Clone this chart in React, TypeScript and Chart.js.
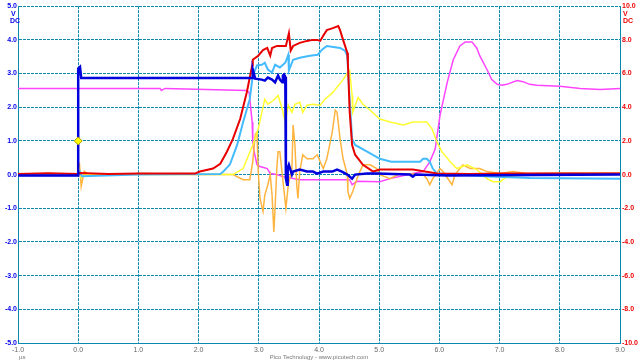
import React, { useEffect, useRef } from "react";
import { Chart, registerables } from "chart.js";

Chart.register(...registerables);

// time axis (µs)
const xTicksMin = -1;
const xTicksMax = 9;
const leftMin = -5;
const leftMax = 5;
const rightMin = -10;
const rightMax = 10;

// Blue channel (left axis, V)
const blueT = [-1, 0, 0, 0.03, 0.05, 0.06, 2.89, 2.9, 2.94, 3.05, 3.1, 3.15, 3.22, 3.27, 3.32, 3.35, 3.39, 3.4, 3.42, 3.44, 3.45, 3.47, 3.48, 3.5, 3.55, 3.57, 3.68, 3.8, 3.9, 3.97, 4.07, 4.22, 4.3, 4.38, 4.47, 4.55, 4.6, 4.8, 4.96, 5.51, 5.56, 5.6, 6.13, 9];
const blueV = [-0.03, -0.03, 3.15, 3.2, 2.87, 2.87, 2.87, 3.12, 2.85, 2.82, 2.79, 2.88, 2.82, 2.74, 2.94, 2.82, 2.74, 2.94, 2.97, 2.9, -0.12, -0.3, 0.18, 0.29, 0, 0.09, 0.15, 0.09, 0.09, 0.03, 0.09, 0.09, 0.15, 0.09, 0, -0.12, 0, 0.03, 0.03, 0, -0.06, 0, -0.03, 0];

// Red channel (right axis, V)
const redT = [-1, -0.5, 0, 0.03, 0.5, 1, 1.5, 1.94, 2.02, 2.24, 2.36, 2.47, 2.57, 2.69, 2.8, 2.89, 2.9, 2.99, 3.07, 3.14, 3.19, 3.22, 3.3, 3.45, 3.5, 3.53, 3.57, 3.68, 3.8, 3.9, 3.97, 4.02, 4.07, 4.13, 4.23, 4.32, 4.35, 4.4, 4.47, 4.48, 4.51, 4.55, 4.6, 4.73, 4.9, 5.01, 5.56, 5.96, 6.5, 7, 8, 9];
const redV = [0.04, 0.08, 0.04, 0.1, 0.04, 0.06, 0.06, 0.06, 0.18, 0.36, 0.64, 1.36, 2.12, 3.3, 4.88, 6.48, 6.82, 7.06, 7.4, 7.52, 7.06, 7.52, 7.64, 7.64, 8.4, 7.36, 7.64, 7.82, 7.94, 8.0, 8.0, 7.94, 8.24, 8.58, 8.7, 8.82, 8.58, 8.0, 7.24, 6.64, 3.7, 1.76, 1.18, 0.58, 0.18, 0.3, 0.3, 0.06, 0.04, 0.06, 0.06, 0.06];

// Cyan channel (left axis, V)
const cyanT = [-1, 0, 0.03, 0.06, 1, 2.36, 2.41, 2.52, 2.64, 2.74, 2.85, 2.9, 2.97, 3.05, 3.1, 3.15, 3.22, 3.27, 3.35, 3.44, 3.49, 3.5, 3.57, 3.68, 3.85, 3.98, 4.05, 4.13, 4.35, 4.43, 4.47, 4.51, 4.55, 4.6, 4.8, 5.01, 5.2, 5.68, 5.73, 5.79, 5.84, 5.89, 5.96, 6.3, 6.84, 7.5, 9];
const cyanV = [-0.02, -0.02, 0.08, -0.05, 0, 0.02, 0.09, 0.3, 0.88, 1.56, 2.24, 2.94, 3.24, 3.26, 3.32, 3.12, 3.03, 3.26, 3.18, 3.32, 3.56, 3.09, 3.41, 3.47, 3.53, 3.56, 3.71, 3.82, 3.76, 3.68, 3.53, 2.2, 1.06, 0.88, 0.68, 0.47, 0.38, 0.38, 0.47, 0.47, 0.38, 0.18, 0.03, 0, -0.06, -0.1, -0.12];

// Yellow channel (left axis, V)
const yellowT = [-1, 0, 0.02, 0.05, 0.1, 2.57, 2.74, 2.9, 2.99, 3.05, 3.1, 3.15, 3.24, 3.32, 3.39, 3.44, 3.49, 3.55, 3.6, 3.68, 3.73, 3.8, 3.9, 4.02, 4.1, 4.23, 4.4, 4.48, 4.51, 4.55, 4.56, 4.65, 4.73, 4.85, 5.01, 5.18, 5.4, 5.56, 5.79, 5.88, 5.96, 6.04, 6.18, 6.29, 6.46, 6.62, 6.79, 6.89, 7.01, 7.12, 7.5, 9];
const yellowV = [-0.02, 0, 0.15, -0.1, 0, 0, 0.18, 0.88, 1.35, 1.85, 2.24, 2.09, 2.2, 2.35, 1.94, 1.56, 2.06, 1.85, 2.09, 2.15, 1.85, 2.06, 2.09, 2.06, 2.24, 2.44, 2.82, 3.03, 3.09, 2.35, 1.85, 2.29, 2.09, 1.91, 1.65, 1.56, 1.47, 1.56, 1.56, 1.35, 0.97, 0.68, 0.38, 0.18, 0.29, 0.15, -0.12, -0.21, -0.21, -0.06, 0, 0];

// Orange channel (left axis, V)
const orangeT = [-1, -0.5, 0, 0.02, 0.05, 0.1, 0.2, 1, 2, 2.57, 2.74, 2.85, 2.9, 2.94, 2.97, 2.99, 3.02, 3.07, 3.1, 3.15, 3.19, 3.22, 3.25, 3.27, 3.3, 3.32, 3.35, 3.39, 3.42, 3.45, 3.49, 3.55, 3.57, 3.6, 3.63, 3.65, 3.68, 3.73, 3.8, 3.9, 3.97, 4.02, 4.07, 4.13, 4.22, 4.27, 4.3, 4.35, 4.4, 4.47, 4.48, 4.51, 4.56, 4.63, 4.68, 4.73, 4.85, 4.96, 5.01, 5.18, 5.35, 5.73, 5.79, 5.84, 5.89, 6.01, 6.06, 6.21, 6.26, 6.39, 6.51, 6.67, 6.79, 7.01, 7.22, 7.46, 8, 9];
const orangeV = [0, 0.03, 0, 0.35, -0.35, 0.1, -0.03, 0.03, 0, 0, -0.15, -0.15, 0.38, 1.18, 1.26, 0.1, -0.71, -1.09, -0.6, -0.3, 0, -0.6, -1.7, -1.0, 0.2, 0.68, 0.68, 0, -0.5, -1.0, -0.3, 0.18, 1.47, 0.88, -0.3, -0.71, 0.09, 0.59, 0.47, 0.47, 0.59, 0.38, 0.18, 0.47, 1.26, 1.91, 1.85, 1.06, 0.47, 0, -0.5, -0.71, -0.5, -0.12, 0.09, 0.29, 0.29, 0.18, 0, -0.12, 0.03, 0, -0.12, -0.3, -0.12, 0.18, 0.09, -0.3, 0, 0.29, 0.18, 0.18, 0.09, 0.03, 0.09, 0.03, 0.05, 0.05];

// Magenta channel (right axis, V)
const magentaT = [-1, 1.36, 1.38, 1.41, 1.45, 2.8, 2.84, 2.89, 2.9, 2.97, 3.02, 3.14, 3.19, 3.3, 3.4, 3.68, 4.51, 4.55, 4.63, 5.01, 5.18, 5.56, 5.73, 5.84, 5.93, 6.01, 6.13, 6.23, 6.34, 6.43, 6.54, 6.62, 6.67, 6.79, 6.87, 6.96, 7.04, 7.12, 7.29, 7.39, 7.5, 7.62, 8, 8.34, 8.67, 9];
const magentaV = [5.12, 5.12, 5.0, 5.06, 5.12, 5.0, 4.88, 3.12, 1.76, 0.58, 0.48, 0.36, 0.06, 0, -0.12, -0.3, -0.3, -0.6, -0.4, -0.42, -0.24, 0.06, 0.18, 0.76, 1.52, 3.52, 5.48, 6.82, 7.64, 7.88, 7.88, 7.52, 7.06, 6.24, 5.64, 5.36, 5.3, 5.36, 5.58, 5.52, 5.36, 5.3, 5.24, 5.12, 5.06, 5.12];

// Trigger marker
const triggerT = [0];
const triggerV = [1.0];

const xTickLabels = ["-1.0", "0.0", "1.0", "2.0", "3.0", "4.0", "5.0", "6.0", "7.0", "8.0", "9.0"];
const xUnit = "µs";
const footer = "Pico Technology - www.picotech.com";

const GRID = "#0a88b0";

function pts(t: number[], v: number[]) {
  return t.map((x, i) => ({ x, y: v[i] }));
}

export default function App() {
  const ref = useRef<HTMLCanvasElement | null>(null);
  useEffect(() => {
    if (!ref.current) return;
    const textPlugin = {
      id: "extraText",
      afterDraw(chart: any) {
        const { ctx, chartArea } = chart;
        ctx.save();
        ctx.textBaseline = "middle";
        ctx.font = "bold 7px 'Liberation Sans'";
        ctx.fillStyle = "#0000ee";
        ctx.textAlign = "left";
        ctx.fillText("V", chartArea.left - 7, chartArea.top + 8);
        ctx.fillText("DC", chartArea.left - 8, chartArea.top + 15);
        ctx.fillStyle = "#ee0000";
        ctx.fillText("V", chartArea.right + 3, chartArea.top + 8);
        ctx.fillText("DC", chartArea.right + 3, chartArea.top + 15);
        ctx.font = "6px 'Liberation Sans'";
        ctx.fillStyle = "#777777";
        ctx.fillText(xUnit, chartArea.left + 1, chartArea.bottom + 14);
        ctx.textAlign = "center";
        ctx.fillText(footer, (chartArea.left + chartArea.right) / 2, chartArea.bottom + 14);
        ctx.restore();
      },
    };
    const chart = new Chart(ref.current, {
      type: "line",
      data: {
        datasets: [
          { label: "trigger", data: pts(triggerT, triggerV), yAxisID: "y", showLine: false, pointStyle: "rectRot", pointRadius: 4, backgroundColor: "#ffff00", borderColor: "#b0a000", borderWidth: 1 },
          { label: "A", data: pts(blueT, blueV), yAxisID: "y", borderColor: "#0000dd", borderWidth: 2.5, pointRadius: 0 },
          { label: "B", data: pts(redT, redV), yAxisID: "y2", borderColor: "#e80000", borderWidth: 2, pointRadius: 0 },
          { label: "C", data: pts(cyanT, cyanV), yAxisID: "y", borderColor: "#44bbff", borderWidth: 2, pointRadius: 0 },
          { label: "D", data: pts(yellowT, yellowV), yAxisID: "y", borderColor: "#ffff30", borderWidth: 1.5, pointRadius: 0 },
          { label: "E", data: pts(orangeT, orangeV), yAxisID: "y", borderColor: "#ffb440", borderWidth: 1.5, pointRadius: 0 },
          { label: "F", data: pts(magentaT, magentaV), yAxisID: "y2", borderColor: "#ff44ff", borderWidth: 1.5, pointRadius: 0 },
        ],
      },
      options: {
        animation: false,
        responsive: true,
        maintainAspectRatio: false,
        layout: { padding: { top: 3, left: 0, right: 0, bottom: 0 } },
        plugins: { legend: { display: false }, tooltip: { enabled: false } },
        elements: { line: { tension: 0 } },
        scales: {
          x: {
            type: "linear",
            min: xTicksMin,
            max: xTicksMax,
            afterFit: (s: any) => { s.height = 17; },
            ticks: {
              stepSize: 1,
              autoSkip: false,
              maxRotation: 0,
              padding: 3,
              color: "#666666",
              font: { family: "Liberation Sans", size: 7 },
              callback: (_v: any, i: number) => xTickLabels[i],
            },
            grid: { color: GRID, lineWidth: 1, drawTicks: false },
            border: { color: GRID, dash: [3, 1] },
          },
          y: {
            position: "left",
            min: leftMin,
            max: leftMax,
            afterFit: (s: any) => { s.width = 18; },
            ticks: {
              stepSize: 1,
              padding: 1,
              color: "#0000ee",
              font: { family: "Liberation Sans", size: 7, weight: "bold" },
              callback: (v: any) => Number(v).toFixed(1),
            },
            grid: { color: GRID, lineWidth: 1, drawTicks: false },
            border: { color: GRID, dash: [3, 1] },
          },
          y2: {
            position: "right",
            min: rightMin,
            max: rightMax,
            afterFit: (s: any) => { s.width = 20; },
            ticks: {
              stepSize: 2,
              padding: 2,
              color: "#ee0000",
              font: { family: "Liberation Sans", size: 7, weight: "bold" },
              callback: (v: any) => Number(v).toFixed(1),
            },
            grid: { display: false, drawTicks: false },
            border: { color: GRID, dash: [3, 1] },
          },
        },
      },
      plugins: [textPlugin],
    });
    return () => chart.destroy();
  }, []);
  return (
    <div style={{ position: "fixed", left: 0, top: 0, width: 640, height: 360, background: "#ffffff" }}>
      <canvas ref={ref} />
    </div>
  );
}
